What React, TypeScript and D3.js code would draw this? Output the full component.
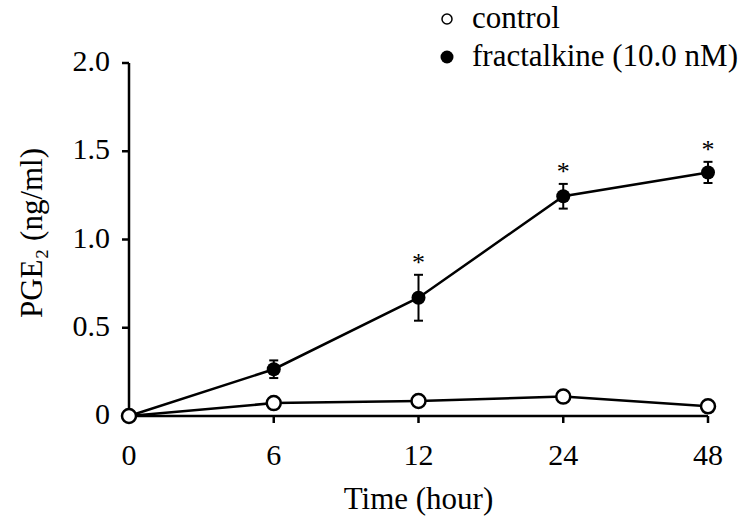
import React from "react";
import * as d3 from "d3";

const times = ["0", "6", "12", "24", "48"];
const controlValues = [0, 0.073, 0.085, 0.11, 0.055];
const fractalkineValues = [0, 0.265, 0.67, 1.245, 1.38];
const fractalkineErrors = [0, 0.05, 0.13, 0.07, 0.06];
const significant = [false, false, true, true, true];
const yTicks = [0, 0.5, 1.0, 1.5, 2.0];
const yTickLabels = ["0", "0.5", "1.0", "1.5", "2.0"];
const legendLabels = ["control", "fractalkine (10.0 nM)"];

export default function App() {
  const W = 742, H = 519;
  const x = d3.scalePoint<string>().domain(times).range([129, 708]);
  const y = d3.scaleLinear().domain([0, 2]).range([416, 63]);
  const font = "'Liberation Serif', 'Times New Roman', serif";
  const line = d3.line<number>().x((_, i) => x(times[i])!).y((d) => y(d));
  const r = 7;
  return (
    <svg width={W} height={H} style={{ position: "absolute", left: 0, top: 0 }} fontFamily={font}>
      <rect width={W} height={H} fill="#fff" />
      {/* axes */}
      <line x1={129} x2={129} y1={y(2)} y2={y(0)} stroke="#000" strokeWidth={2.5} />
      <line x1={129} x2={x("48")!} y1={y(0)} y2={y(0)} stroke="#000" strokeWidth={2.5} />
      {yTicks.map((t, i) => (
        <g key={i}>
          <line x1={122} x2={129} y1={y(t)} y2={y(t)} stroke="#000" strokeWidth={2.5} />
          <text x={110} y={y(t) + 8} textAnchor="end" fontSize={30}>{yTickLabels[i]}</text>
        </g>
      ))}
      {times.map((t) => (
        <g key={t}>
          <line x1={x(t)} x2={x(t)} y1={y(0)} y2={y(0) + 7} stroke="#000" strokeWidth={2.5} />
          <text x={x(t)} y={465} textAnchor="middle" fontSize={30}>{t}</text>
        </g>
      ))}
      <text x={x("12")} y={509} textAnchor="middle" fontSize={31}>Time (hour)</text>
      <text transform="translate(42,233) rotate(-90)" textAnchor="middle" fontSize={31}>PGE₂ (ng/ml)</text>
      {/* lines */}
      <path d={line(controlValues)!} fill="none" stroke="#000" strokeWidth={2.5} />
      <path d={line(fractalkineValues)!} fill="none" stroke="#000" strokeWidth={2.5} />
      {/* error bars */}
      {fractalkineValues.map((v, i) => {
        const e = fractalkineErrors[i];
        if (!e) return null;
        const cx = x(times[i])!;
        return (
          <g key={"e" + i} stroke="#000" strokeWidth={2}>
            <line x1={cx} x2={cx} y1={y(v + e)} y2={y(v - e)} />
            <line x1={cx - 4.5} x2={cx + 4.5} y1={y(v + e)} y2={y(v + e)} />
            <line x1={cx - 4.5} x2={cx + 4.5} y1={y(v - e)} y2={y(v - e)} />
          </g>
        );
      })}
      {fractalkineValues.map((v, i) => (
        <circle key={"f" + i} cx={x(times[i])} cy={y(v)} r={r} fill="#000" />
      ))}
      {controlValues.map((v, i) => (
        <circle key={"c" + i} cx={x(times[i])} cy={y(v)} r={r} fill="#fff" stroke="#000" strokeWidth={2.5} />
      ))}
      {fractalkineValues.map((v, i) =>
        significant[i] ? (
          <text key={"s" + i} x={x(times[i])} y={y(v + fractalkineErrors[i]) - 4} textAnchor="middle" fontSize={26}>*</text>
        ) : null
      )}
      {/* legend */}
      <circle cx={447} cy={19} r={5} fill="#fff" stroke="#000" strokeWidth={1.5} />
      <text x={472} y={28} fontSize={31}>{legendLabels[0]}</text>
      <circle cx={447} cy={57} r={6.5} fill="#000" />
      <text x={472} y={66} fontSize={31}>{legendLabels[1]}</text>
    </svg>
  );
}
